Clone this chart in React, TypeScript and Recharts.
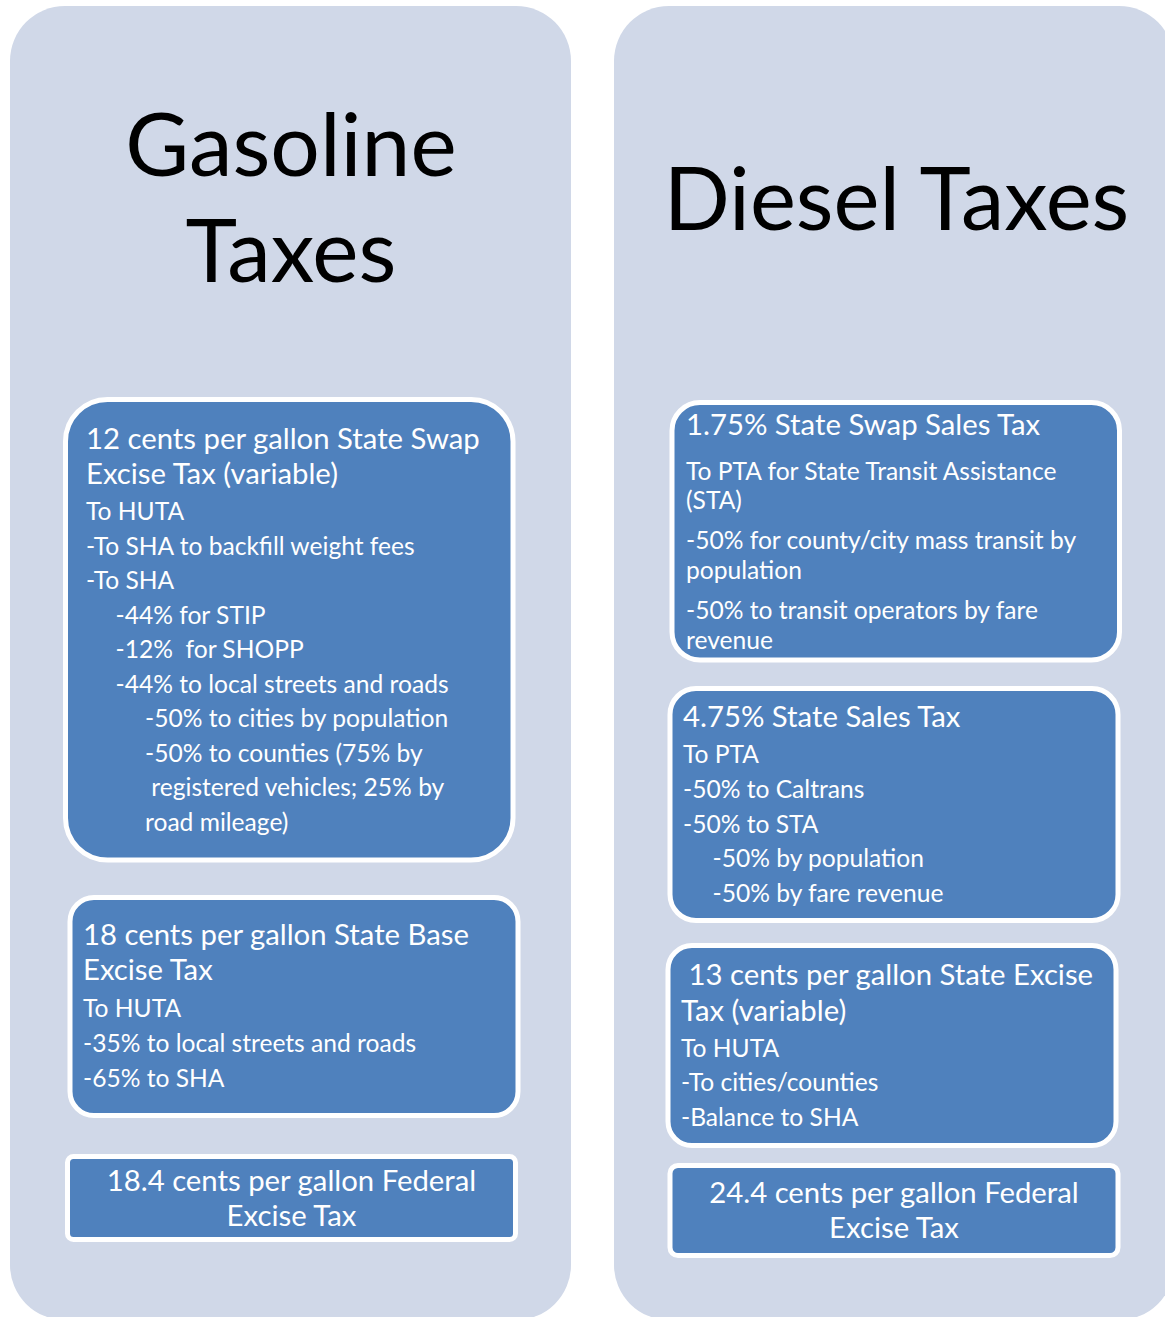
import React from "react";
import { ComposedChart, Customized } from "recharts";

// ---- content (text) ----
const panelTitles = ["Gasoline", "Taxes"];
const dieselTitles = ["Diesel Taxes"];

const gasSwapHeading = ["12 cents per gallon State Swap", "Excise Tax (variable)"];
const gasSwapLines = [
  "To HUTA",
  "-To SHA to backfill weight fees",
  "-To SHA",
  "-44% for STIP",
  "-12%  for SHOPP",
  "-44% to local streets and roads",
  "-50% to cities by population",
  "-50% to counties (75% by",
  " registered vehicles; 25% by",
  "road mileage)",
];
const gasSwapIndent = [0, 0, 0, 1, 1, 1, 2, 2, 2, 2];

const gasBaseHeading = ["18 cents per gallon State Base", "Excise Tax"];
const gasBaseLines = ["To HUTA", "-35% to local streets and roads", "-65% to SHA"];
const gasBaseIndent = [0, 0, 0];

const gasFederalHeading = ["18.4 cents per gallon Federal", "Excise Tax"];

const dieselSwapHeading = ["1.75% State Swap Sales Tax"];
const dieselSwapLines = [
  "To PTA for State Transit Assistance",
  "(STA)",
  "-50% for county/city mass transit by",
  "population",
  "-50% to transit operators by fare",
  "revenue",
];
const dieselSwapIndent = [0, 0, 0, 0, 0, 0];

const dieselSalesHeading = ["4.75% State Sales Tax"];
const dieselSalesLines = ["To PTA", "-50% to Caltrans", "-50% to STA", "-50% by population", "-50% by fare revenue"];
const dieselSalesIndent = [0, 0, 0, 1, 1];

const dieselExciseHeading = [" 13 cents per gallon State Excise", "Tax (variable)"];
const dieselExciseLines = ["To HUTA", "-To cities/counties", "-Balance to SHA"];
const dieselExciseIndent = [0, 0, 0];

const dieselFederalHeading = ["24.4 cents per gallon Federal", "Excise Tax"];

// ---- layout & style ----
const W = 1165;
const H = 1317;
const FONT = "Lato, 'Open Sans', sans-serif";
const PANEL_FILL = "#D0D8E8";
const BOX_FILL = "#4F81BD";
const HEAD_SIZE = 29.3;
const ITEM_SIZE = 24.6;
const INDENT = 29.5;

type Box = {
  rect: { x: number; y: number; w: number; h: number; r: number };
  textX?: number;
  centerX?: number;
  heading: string[];
  headBase: number[];
  lines?: string[];
  indent?: number[];
  lineBase?: number[];
};

const seq = (start: number, step: number, n: number) => Array.from({ length: n }, (_, i) => start + i * step);

const boxes: Box[] = [
  {
    rect: { x: 65.5, y: 399.5, w: 447.5, h: 460.5, r: 42 },
    textX: 86,
    heading: gasSwapHeading,
    headBase: [449, 484],
    lines: gasSwapLines,
    indent: gasSwapIndent,
    lineBase: seq(520, 34.55, 10),
  },
  {
    rect: { x: 70, y: 897.5, w: 448, h: 218, r: 24 },
    textX: 83,
    heading: gasBaseHeading,
    headBase: [945, 980],
    lines: gasBaseLines,
    indent: gasBaseIndent,
    lineBase: [1017, 1052, 1087],
  },
  {
    rect: { x: 67.5, y: 1156.5, w: 448, h: 83, r: 6 },
    centerX: 291.5,
    heading: gasFederalHeading,
    headBase: [1191, 1226],
  },
  {
    rect: { x: 672, y: 402.5, w: 447.5, h: 257.5, r: 28 },
    textX: 686,
    heading: dieselSwapHeading,
    headBase: [435],
    lines: dieselSwapLines,
    indent: dieselSwapIndent,
    lineBase: [480, 509, 549, 579, 619, 649],
  },
  {
    rect: { x: 670, y: 688.5, w: 448, h: 232, r: 26 },
    textX: 683,
    heading: dieselSalesHeading,
    headBase: [727],
    lines: dieselSalesLines,
    indent: dieselSalesIndent,
    lineBase: [763, 798, 833, 867, 902],
  },
  {
    rect: { x: 668, y: 945.5, w: 448, h: 200, r: 24 },
    textX: 681,
    heading: dieselExciseHeading,
    headBase: [985, 1021],
    lines: dieselExciseLines,
    indent: dieselExciseIndent,
    lineBase: [1057, 1091, 1126],
  },
  {
    rect: { x: 670, y: 1165.5, w: 448, h: 90, r: 8 },
    centerX: 894,
    heading: dieselFederalHeading,
    headBase: [1203, 1238],
  },
];

const panels = [
  { x: 10, y: 6, w: 561, h: 1314, r: 55 },
  { x: 614, y: 6, w: 560, h: 1314, r: 55 },
];

const Diagram = () => (
  <g fontFamily={FONT}>
    {panels.map((p, i) => (
      <rect key={`p${i}`} x={p.x} y={p.y} width={p.w} height={p.h} rx={p.r} ry={p.r} fill={PANEL_FILL} />
    ))}
    {panelTitles.map((t, i) => (
      <text key={`gt${i}`} x={291} y={[176, 282][i]} textAnchor="middle" fontSize={87.5} fill="#000">
        {t}
      </text>
    ))}
    {dieselTitles.map((t, i) => (
      <text key={`dt${i}`} x={896.5} y={230} textAnchor="middle" fontSize={87} fill="#000">
        {t}
      </text>
    ))}
    {boxes.map((b, bi) => (
      <g key={`b${bi}`}>
        <rect
          x={b.rect.x}
          y={b.rect.y}
          width={b.rect.w}
          height={b.rect.h}
          rx={b.rect.r}
          ry={b.rect.r}
          fill={BOX_FILL}
          stroke="#FFFFFF"
          strokeWidth={5}
        />
        {b.heading.map((t, i) => (
          <text
            key={`h${i}`}
            x={b.centerX ?? b.textX}
            y={b.headBase[i]}
            textAnchor={b.centerX ? "middle" : "start"}
            fontSize={HEAD_SIZE}
            fill="#FFFFFF"
            style={{ whiteSpace: "pre" }}
          >
            {t}
          </text>
        ))}
        {(b.lines ?? []).map((t, i) => (
          <text
            key={`l${i}`}
            x={(b.textX ?? 0) + (b.indent ? b.indent[i] : 0) * INDENT}
            y={b.lineBase ? b.lineBase[i] : 0}
            fontSize={ITEM_SIZE}
            fill="#FFFFFF"
            style={{ whiteSpace: "pre" }}
          >
            {t}
          </text>
        ))}
      </g>
    ))}
  </g>
);

export default function App() {
  return (
    <div style={{ position: "absolute", left: 0, top: 0, width: W, height: H, background: "#FFFFFF" }}>
      <ComposedChart width={W} height={H} data={[]} margin={{ top: 0, right: 0, bottom: 0, left: 0 }}>
        <Customized component={Diagram} />
      </ComposedChart>
    </div>
  );
}
